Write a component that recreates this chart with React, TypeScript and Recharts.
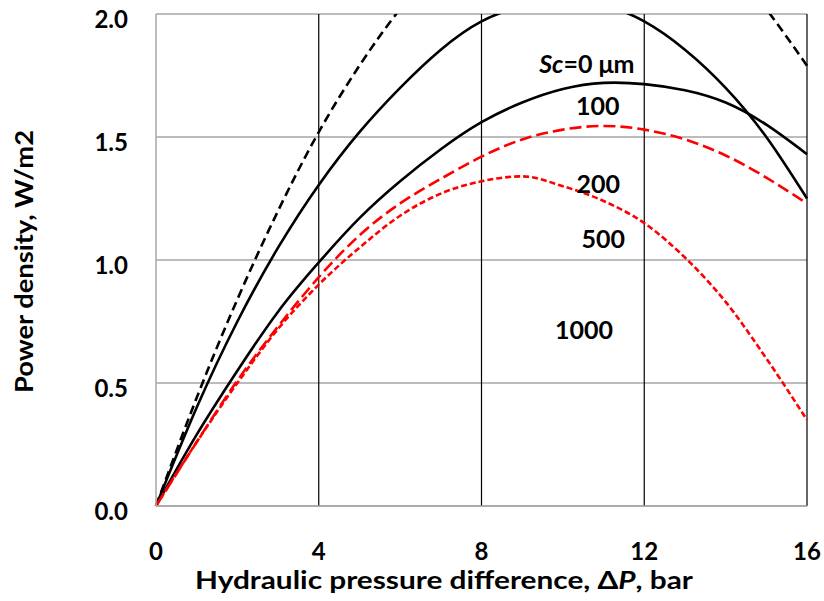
import {
  LineChart,
  Line,
  XAxis,
  YAxis,
  CartesianGrid,
  ReferenceLine,
  ReferenceDot,
  Label,
} from "recharts";

// hydraulic pressure difference, bar
const pressure = [0, 1, 2, 3, 4, 5, 6, 7, 8, 9, 10, 11, 12, 13, 14, 15, 16];

// power density, W/m2
const sc0 = [0, 0.44, 0.84, 1.2, 1.52, 1.79, 2.02, 2.2, 2.33, 2.42, 2.47, 2.48, 2.45, 2.37, 2.22, 2.02, 1.79];
const sc100 = [0, 0.4, 0.75, 1.05, 1.305, 1.52, 1.7, 1.855, 1.97, 2.03, 2.05, 2.035, 1.97, 1.855, 1.7, 1.5, 1.25];
const sc200 = [0, 0.29, 0.55, 0.79, 0.99, 1.17, 1.32, 1.45, 1.56, 1.64, 1.695, 1.72, 1.715, 1.69, 1.64, 1.55, 1.43];
const sc500 = [0, 0.26, 0.51, 0.73, 0.93, 1.1, 1.23, 1.33, 1.42, 1.49, 1.53, 1.545, 1.53, 1.49, 1.425, 1.335, 1.23];
const sc1000 = [0, 0.26, 0.5, 0.72, 0.9, 1.05, 1.18, 1.27, 1.32, 1.34, 1.3, 1.24, 1.15, 1.01, 0.83, 0.6, 0.35];

const xTicks = [0, 4, 8, 12, 16];
const yTicks = [0, 0.5, 1, 1.5, 2];
const xGridLines = [4, 8, 12, 16];

// curve labels: text, x, y in data units
const curveLabels = [
  { text: "0", x: 10.59, y: 1.8 },
  { text: "100", x: 10.86, y: 1.63 },
  { text: "200", x: 10.87, y: 1.313 },
  { text: "500", x: 10.99, y: 1.09 },
  { text: "1000", x: 10.52, y: 0.72 },
];

const font = "Lato, 'Open Sans', sans-serif";

function XTick(props: any) {
  const { x, y, payload } = props;
  return (
    <text x={x} y={y + 54} textAnchor="middle" fill="#000" fontSize={24} fontWeight={700} fontFamily={font}>
      {payload.value}
    </text>
  );
}

function YTick(props: any) {
  const { x, y, payload } = props;
  return (
    <text x={x - 28} y={y + 13.5} textAnchor="end" fill="#000" fontSize={24} fontWeight={700} fontFamily={font}>
      {Number(payload.value).toFixed(1)}
    </text>
  );
}

function CurveLabel(props: any) {
  const { cx, cy, text } = props;
  return (
    <text x={cx} y={cy} textAnchor="middle" dominantBaseline="central" fill="#000" fontSize={25} fontWeight={700} fontFamily={font}>
      {text === "0" ? (
        <>
          <tspan fontStyle="italic">Sc</tspan>=0 μm
        </>
      ) : (
        text
      )}
    </text>
  );
}

const data = pressure.map((p, i) => ({
  p,
  sc0: sc0[i],
  sc100: sc100[i],
  sc200: sc200[i],
  sc500: sc500[i],
  sc1000: sc1000[i],
}));

export default function App() {
  return (
    <div style={{ position: "absolute", left: 0, top: 0 }}>
      <LineChart
        width={824}
        height={601}
        data={data}
        margin={{ top: 14, right: 17, bottom: 35, left: 96 }}
      >
        <CartesianGrid vertical={false} stroke="#a6a6a6" strokeWidth={1.5} />
        {xGridLines.map((x) => (
          <ReferenceLine key={x} x={x} stroke="#000" strokeWidth={1.2} />
        ))}
        <XAxis
          dataKey="p"
          type="number"
          domain={[0, 16]}
          ticks={xTicks}
          tick={<XTick />}
          tickLine={false}
          tickSize={0}
          tickMargin={0}
          height={60}
          axisLine={{ stroke: "#a6a6a6", strokeWidth: 1.5 }}
        >
          <Label
            content={() => (
              <text x={195} y={589} textAnchor="start" textLength={498} lengthAdjust="spacingAndGlyphs" fill="#000" fontSize={25.5} fontWeight={700} fontFamily={font}>
                Hydraulic pressure difference, Δ<tspan fontStyle="italic">P</tspan>, bar
              </text>
            )}
          />
        </XAxis>
        <YAxis
          type="number"
          domain={[0, 2]}
          ticks={yTicks}
          allowDataOverflow
          tick={<YTick />}
          tickLine={false}
          tickSize={0}
          tickMargin={0}
          width={60}
          axisLine={{ stroke: "#a6a6a6", strokeWidth: 1.5 }}
        >
          <Label
            content={() => (
              <text transform="translate(33,393) rotate(-90)" x={0} y={0} textAnchor="start" textLength={263} lengthAdjust="spacingAndGlyphs" fill="#000" fontSize={25.5} fontWeight={700} fontFamily={font}>
                Power density, W/m2
              </text>
            )}
          />
        </YAxis>
        <Line type="natural" dataKey="sc0" stroke="#000" strokeWidth={2.6} strokeDasharray="9 5" dot={false} isAnimationActive={false} />
        <Line type="natural" dataKey="sc100" stroke="#000" strokeWidth={2.6} dot={false} isAnimationActive={false} />
        <Line type="natural" dataKey="sc200" stroke="#000" strokeWidth={2.6} dot={false} isAnimationActive={false} />
        <Line type="natural" dataKey="sc500" stroke="#ff0000" strokeWidth={2.6} strokeDasharray="12 5" dot={false} isAnimationActive={false} />
        <Line type="monotone" dataKey="sc1000" stroke="#ff0000" strokeWidth={2.6} strokeDasharray="6 3" dot={false} isAnimationActive={false} />
        {curveLabels.map((l) => (
          <ReferenceDot
            key={l.text}
            x={l.x}
            y={l.y}
            r={0}
            shape={(props: any) => <CurveLabel {...props} text={l.text} />}
          />
        ))}
      </LineChart>
    </div>
  );
}
